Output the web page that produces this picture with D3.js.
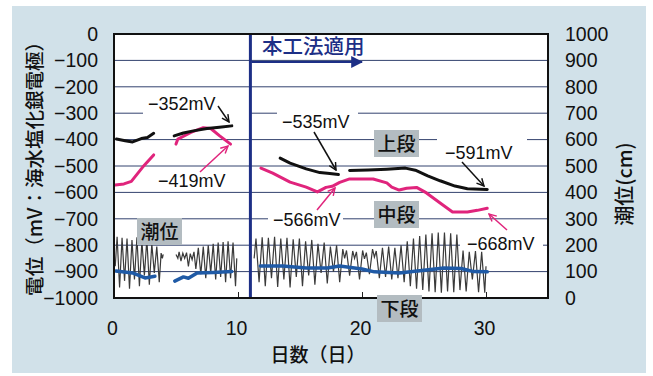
<!DOCTYPE html>
<html><head><meta charset="utf-8">
<script src="https://cdn.jsdelivr.net/npm/d3@7/dist/d3.min.js"></script>
<style>
html,body{margin:0;padding:0;background:#fff;}
svg{display:block;}
.num{font-family:"Liberation Sans",Arial,sans-serif;}
.jp{font-family:"Noto Sans CJK JP",sans-serif;}
</style></head>
<body>
<svg id="c" width="653" height="376"></svg>
<script>
// ---- data ----
const xTicks = [0, 10, 20, 30];
const mvTicks = [0, -100, -200, -300, -400, -500, -600, -700, -800, -900, -1000];
const cmTicks = [0, 100, 200, 300, 400, 500, 600, 700, 800, 900, 1000];
const startDay = 11; // 本工法適用

// 上段 (black), [day, mV]
const upperA = [[0.2,-398],[0.9,-404],[1.5,-409],[2.2,-396],[2.7,-392],[3.2,-376]];
const upperB = [[4.85,-386],[5.6,-375],[6.4,-367],[7.5,-358],[8.5,-353],[9.5,-348]];
const upperC = [[13.4,-470],[14.2,-489],[15.5,-511],[16.6,-525],[17.4,-528],[18.1,-532]];
const upperD = [[19.0,-517],[20.5,-515],[22.0,-512],[23.5,-508],[24.3,-516],[25.3,-537],[26.3,-556],[27.5,-576],[28.5,-586],[30.1,-589]];
// 中段 (magenta)
const midA = [[0.1,-572],[0.8,-568],[1.4,-558],[2.3,-505],[3.2,-458]];
const midB = [[5.0,-417],[5.15,-398],[6.2,-373],[7.2,-355],[7.8,-358],[8.5,-385],[9.4,-417]];
const midC = [[11.85,-508],[12.8,-527],[14.2,-561],[15.5,-580],[16.4,-598],[17.1,-581],[17.6,-577],[18.2,-562],[19.0,-549],[20.9,-549],[22.0,-564],[22.4,-580],[23.0,-591],[23.6,-584],[24.4,-581],[25.2,-602],[26.3,-640],[27.3,-674],[28.5,-674],[29.3,-668],[30.1,-660]];
// 下段 (blue)
const lowA = [[0.15,-898],[1.5,-905],[2.5,-924],[3.3,-918]];
const lowB = [[4.9,-936],[5.6,-920],[6.0,-925],[6.7,-905],[8.0,-903],[9.5,-900]];
const lowC = [[11.8,-879],[13.6,-879],[15.5,-886],[17.2,-886],[18.2,-879],[20.0,-890],[21.0,-901],[23.0,-905],[25.0,-895],[26.6,-886],[28.0,-888],[29.0,-900],[30.1,-901]];
// 潮位 (cm), [day, cm]
const tideA = [[0.10,120],[0.25,232],[0.45,40],[0.65,228],[0.85,65],[1.05,225],[1.25,35],[1.45,220],[1.65,70],[1.85,230],[2.05,45],[2.25,215],[2.45,85],[2.65,222],[2.85,50],[3.05,205],[3.25,95],[3.45,195],[3.65,60],[3.80,170],[3.90,150],[3.97,165]];
const tideB = [[5.00,165],[5.15,150],[5.25,175],[5.40,140],[5.55,170],[5.70,150],[5.85,172],[6.00,120],[6.15,168],[6.30,145],[6.45,175],[6.60,110],[6.80,190],[7.00,90],[7.20,195],[7.40,75],[7.60,200],[7.80,95],[8.00,205],[8.20,70],[8.40,210],[8.60,80],[8.80,212],[9.00,60],[9.20,215],[9.40,75],[9.60,210],[9.80,45],[9.90,150]];
const tideC = [[11.30,150],[11.45,225],[11.70,60],[11.95,230],[12.20,45],[12.45,228],[12.70,75],[12.95,232],[13.20,42],[13.45,225],[13.70,70],[13.95,228],[14.20,40],[14.45,222],[14.70,80],[14.95,225],[15.20,45],[15.45,215],[15.70,85],[15.95,220],[16.20,50],[16.45,205],[16.70,95],[16.95,210],[17.20,55],[17.45,195],[17.70,100],[17.95,200],[18.20,60],
 [18.45,185],[18.60,150],[18.75,180],[19.00,85],[19.25,178],[19.40,150],[19.55,175],[19.80,70],[20.05,180],[20.20,148],[20.35,172],[20.60,90],[20.85,185],[21.00,155],[21.15,178],[21.40,75],[21.65,190],[21.90,80],[22.15,195],[22.40,70],[22.65,190],[22.90,75],[23.15,200],[23.40,60],
 [23.65,215],[23.90,45],[24.15,225],[24.40,35],[24.65,235],[24.90,30],[25.15,240],[25.40,25],[25.65,245],[25.90,22],[26.15,248],[26.40,20],[26.65,248],[26.90,25],[27.15,245],[27.40,22],[27.65,240],[27.90,30],
 [28.15,180],[28.40,25],[28.65,175],[28.90,70],[29.15,178],[29.40,22],[29.65,175],[29.90,20],[30.00,120]];

// ---- drawing ----
const svg = d3.select("#c");
const L = 114, R = 548, T = 34, B = 298;
const x = d3.scaleLinear().domain([0, 35]).range([L, R]);
const y = d3.scaleLinear().domain([-1000, 0]).range([B, T]);
const yR = d3.scaleLinear().domain([0, 1000]).range([B, T]);

const defs = svg.append("defs");
function mk(id, col) {
  defs.append("marker").attr("id", id).attr("viewBox", "0 0 10 10")
    .attr("refX", 9).attr("refY", 5).attr("markerWidth", 9).attr("markerHeight", 9)
    .attr("markerUnits", "userSpaceOnUse").attr("orient", "auto")
    .append("path").attr("d", "M1,1 L9,5 L1,9").attr("fill", "none")
    .attr("stroke", col).attr("stroke-width", 1.6);
}
mk("aBlack", "#111"); mk("aPink", "#e0247c");
defs.append("marker").attr("id", "aNavy").attr("viewBox", "0 0 10 10")
  .attr("refX", 9).attr("refY", 5).attr("markerWidth", 12).attr("markerHeight", 12)
  .attr("markerUnits", "userSpaceOnUse").attr("orient", "auto")
  .append("path").attr("d", "M0,0 L10,5 L0,10 Z").attr("fill", "#1d2f86");

// panel
svg.append("rect").attr("x", 12).attr("y", 6).attr("width", 634).attr("height", 367).attr("fill", "#d1e1e9");
// plot background
svg.append("rect").attr("x", L).attr("y", T).attr("width", R - L).attr("height", B - T).attr("fill", "#fff");

// grid
svg.append("g").selectAll("line").data(mvTicks.filter(v => v > -1000 && v < 0)).join("line")
  .attr("x1", L).attr("x2", R).attr("y1", d => y(d)).attr("y2", d => y(d))
  .attr("stroke", "#33426e").attr("stroke-width", 1);

// white label masks on gridlines
const masks = [[143, 95, 107, 22], [277, 110, 81, 24], [437, 135, 90, 27], [268, 208, 75, 22], [460, 233, 83, 20]];
svg.append("g").selectAll("rect").data(masks).join("rect")
  .attr("x", d => d[0]).attr("y", d => d[1]).attr("width", d => d[2]).attr("height", d => d[3]).attr("fill", "#fff");

// axes
const fmt = d => d3.format("d")(d).replace("-", "\u2212");
const ax = svg.append("g").attr("transform", `translate(0,${B})`)
  .call(d3.axisBottom(x).tickValues(xTicks).tickSizeInner(-6).tickSizeOuter(0).tickPadding(23));
ax.select(".domain").remove();
ax.selectAll("line").filter(d => d === 0).remove();
ax.selectAll("line").attr("stroke", "#222");
ax.selectAll("text").attr("class", "num").attr("font-size", 19.5).attr("fill", "#111").attr("dx", -2);

const ay = svg.append("g").attr("transform", `translate(${L},0)`)
  .call(d3.axisLeft(y).tickValues(mvTicks).tickSize(0).tickPadding(16).tickFormat(fmt));
ay.select(".domain").remove();
ay.selectAll("text").attr("class", "num").attr("font-size", 19.5).attr("fill", "#111");

const ayR = svg.append("g").attr("transform", `translate(${R},0)`)
  .call(d3.axisRight(yR).tickValues(cmTicks).tickSize(0).tickPadding(17).tickFormat(d3.format("d")));
ayR.select(".domain").remove();
ayR.selectAll("text").attr("class", "num").attr("font-size", 19.5).attr("fill", "#111");

// tide
const lineT = d3.line().x(d => x(d[0])).y(d => yR(d[1]));
svg.append("g").selectAll("path").data([tideA, tideB, tideC]).join("path")
  .attr("d", lineT).attr("fill", "none").attr("stroke", "#3a3a3a").attr("stroke-width", 1.2);

// start line
svg.append("line").attr("x1", x(startDay)).attr("x2", x(startDay)).attr("y1", T).attr("y2", B)
  .attr("stroke", "#1d2f86").attr("stroke-width", 3);

// mV series
const lineV = d3.line().x(d => x(d[0])).y(d => y(d[1])).curve(d3.curveLinear);
function series(arrs, col, w) {
  svg.append("g").selectAll("path").data(arrs).join("path").attr("d", lineV)
    .attr("fill", "none").attr("stroke", col).attr("stroke-width", w)
    .attr("stroke-linejoin", "round").attr("stroke-linecap", "round");
}
series([lowA, lowB, lowC], "#1f5aa6", 3.5);
series([midA, midB, midC], "#e0247c", 3);
series([upperA, upperB, upperC, upperD], "#111", 3);

// plot border
svg.append("rect").attr("x", L).attr("y", T).attr("width", R - L).attr("height", B - T)
  .attr("fill", "none").attr("stroke", "#111").attr("stroke-width", 2);

// 本工法適用
svg.append("text").attr("class", "jp").attr("x", 262).attr("y", 54).attr("font-size", 20.5)
  .attr("font-weight", 500).attr("fill", "#1d2f86").text("本工法適用");
svg.append("line").attr("x1", x(startDay) + 1).attr("x2", 362).attr("y1", 62).attr("y2", 62)
  .attr("stroke", "#1d2f86").attr("stroke-width", 2.2).attr("marker-end", "url(#aNavy)");

// value annotations
const ann = [
  {t: "\u2212352mV", tx: 148, ty: 110, m: "aBlack", a: [218, 106, 229, 122]},
  {t: "\u2212419mV", tx: 158, ty: 187, m: "aPink", ac: "#e0247c", a: [200, 172, 228, 146]},
  {t: "\u2212535mV", tx: 282, ty: 128, m: "aBlack", a: [314, 132, 336, 170]},
  {t: "\u2212591mV", tx: 445, ty: 159, m: "aBlack", a: [462, 162, 484, 186]},
  {t: "\u2212566mV", tx: 273, ty: 226, m: "aPink", ac: "#e0247c", a: [317, 210, 335, 188]},
  {t: "\u2212668mV", tx: 467, ty: 250, m: "aPink", ac: "#e0247c", a: [507, 230, 489, 214]}
];
const ag = svg.append("g");
ann.forEach(d => {
  ag.append("text").attr("class", "num").attr("x", d.tx).attr("y", d.ty).attr("font-size", 18)
    .attr("fill", "#111").text(d.t);
  ag.append("line").attr("x1", d.a[0]).attr("y1", d.a[1]).attr("x2", d.a[2]).attr("y2", d.a[3])
    .attr("stroke", d.ac || "#111").attr("stroke-width", 1.5).attr("marker-end", `url(#${d.m})`);
});

// grey boxes
const boxes = [
  {t: "上段", x: 374, y: 130},
  {t: "中段", x: 374, y: 201},
  {t: "下段", x: 377, y: 295},
  {t: "潮位", x: 137, y: 218}
];
const bg = svg.append("g");
boxes.forEach(b => {
  bg.append("rect").attr("x", b.x).attr("y", b.y).attr("width", 45).attr("height", 27).attr("fill", "#b3bcc1");
  bg.append("text").attr("class", "jp").attr("x", b.x + 22.5).attr("y", b.y + 20.5).attr("text-anchor", "middle")
    .attr("font-size", 19).attr("font-weight", 500).attr("fill", "#111").text(b.t);
});

// axis titles
svg.append("text").attr("class", "jp").attr("transform", `translate(42,${(T + B) / 2 - 2}) rotate(-90)`)
  .attr("text-anchor", "middle").attr("font-size", 19.5).attr("font-weight", 500).attr("fill", "#111").text("電位（mV：海水塩化銀電極）");
svg.append("text").attr("class", "jp").attr("transform", `translate(632,184) rotate(-90)`)
  .attr("text-anchor", "middle").attr("font-size", 20).attr("font-weight", 500).attr("fill", "#111").text("潮位(cm)");
svg.append("text").attr("class", "jp").attr("x", 318).attr("y", 362).attr("text-anchor", "middle")
  .attr("font-size", 19).attr("font-weight", 500).attr("fill", "#111").text("日数（日）");
</script>
</body></html>
